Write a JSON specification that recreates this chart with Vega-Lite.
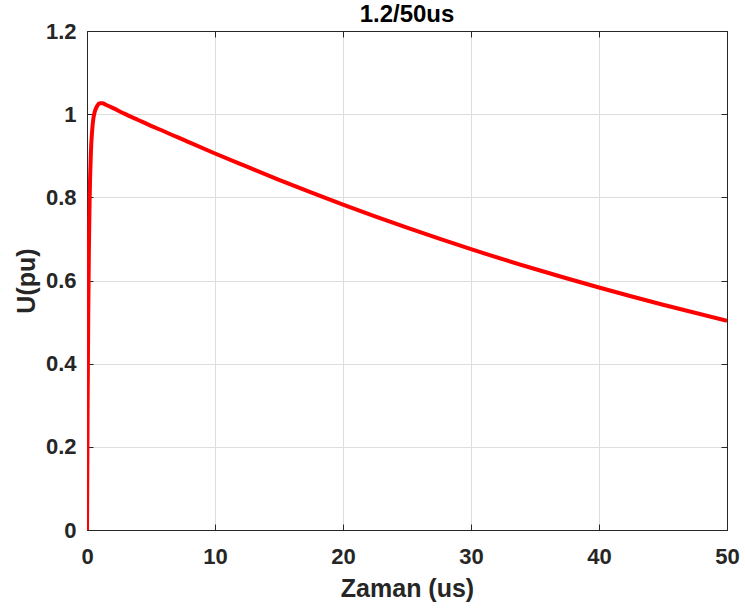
{
  "$schema": "https://vega.github.io/schema/vega-lite/v6.json",
  "width": 640,
  "height": 499,
  "autosize": {"type": "none"},
  "padding": {"left": 87, "top": 31, "right": 18, "bottom": 84},
  "background": "white",
  "config": {
    "view": {"stroke": "#262626", "strokeWidth": 1},
    "font": "Liberation Sans",
    "axis": {
      "labelFont": "Liberation Sans",
      "labelFontSize": 22,
      "labelFontWeight": "bold",
      "labelColor": "#262626",
      "labelFlush": false,
      "titleFont": "Liberation Sans",
      "titleFontSize": 25,
      "titleFontWeight": "bold",
      "titleColor": "#262626",
      "domainColor": "#262626",
      "tickColor": "#262626",
      "tickSize": -6,
      "gridColor": "#dedede",
      "gridWidth": 1
    },
    "title": {"font": "Liberation Sans", "fontSize": 24, "fontWeight": "bold", "color": "#000000"}
  },
  "title": {"text": "1.2/50us", "offset": -7},
  "data": {"values": [
    {"t": 0, "u": 0},
    {"t": 0.05, "u": 0.31},
    {"t": 0.1, "u": 0.527},
    {"t": 0.15, "u": 0.68},
    {"t": 0.2, "u": 0.785},
    {"t": 0.3, "u": 0.905},
    {"t": 0.4, "u": 0.96},
    {"t": 0.5, "u": 0.99},
    {"t": 0.6, "u": 1.005},
    {"t": 0.8, "u": 1.02},
    {"t": 1.0, "u": 1.026},
    {"t": 1.2, "u": 1.026},
    {"t": 1.5, "u": 1.022},
    {"t": 2, "u": 1.015},
    {"t": 3, "u": 1.0},
    {"t": 4, "u": 0.986},
    {"t": 5, "u": 0.972},
    {"t": 6, "u": 0.959},
    {"t": 8, "u": 0.932},
    {"t": 10, "u": 0.9055},
    {"t": 12.5, "u": 0.8737},
    {"t": 15, "u": 0.8422},
    {"t": 17.5, "u": 0.8118},
    {"t": 20, "u": 0.7825},
    {"t": 25, "u": 0.727},
    {"t": 30, "u": 0.6754},
    {"t": 35, "u": 0.6276},
    {"t": 40, "u": 0.5831},
    {"t": 45, "u": 0.5417},
    {"t": 50, "u": 0.5033}
  ]},
  "layer": [
    {
      "mark": {"type": "line", "opacity": 0},
      "encoding": {
        "x": {"field": "t", "type": "quantitative", "scale": {"domain": [0, 50], "nice": false},
              "axis": {"orient": "top", "labels": false, "title": null, "grid": false, "values": [0,10,20,30,40,50]}},
        "y": {"field": "u", "type": "quantitative", "scale": {"domain": [0, 1.2], "nice": false},
              "axis": {"orient": "right", "labels": false, "title": null, "grid": false, "values": [0,0.2,0.4,0.6,0.8,1,1.2]}}
      }
    },
    {
      "mark": {"type": "line", "color": "#ff0000", "strokeWidth": 4, "interpolate": "monotone", "clip": true},
      "encoding": {
        "x": {"field": "t", "type": "quantitative", "scale": {"domain": [0, 50], "nice": false},
              "axis": {"orient": "bottom", "title": "Zaman (us)", "grid": true, "format": "d", "values": [0,10,20,30,40,50], "labelPadding": 22, "titlePadding": 9}},
        "y": {"field": "u", "type": "quantitative", "scale": {"domain": [0, 1.2], "nice": false},
              "axis": {"orient": "left", "title": "U(pu)", "grid": true, "format": "~g", "values": [0,0.2,0.4,0.6,0.8,1,1.2], "labelPadding": 17, "titlePadding": 6}}
      }
    }
  ],
  "resolve": {"scale": {"x": "independent", "y": "independent"}, "axis": {"x": "independent", "y": "independent"}}
}
